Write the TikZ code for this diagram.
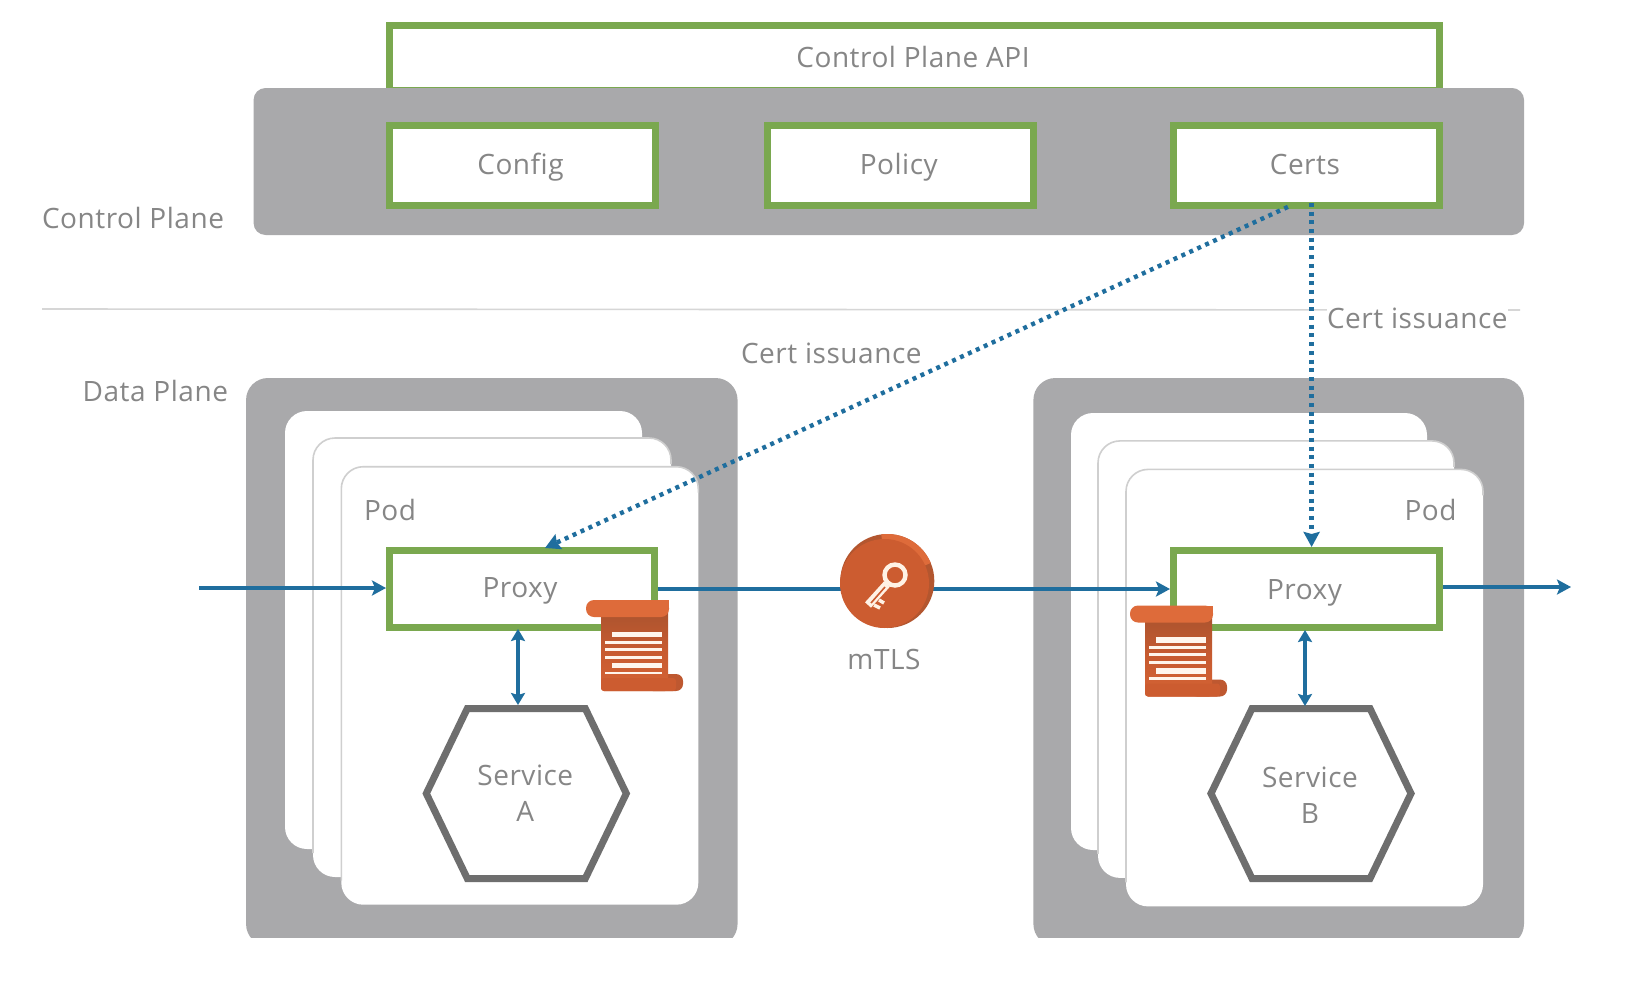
\documentclass[tikz,border=0pt]{standalone}
\usepackage{fontspec}
\setmainfont{Open Sans}[Ligatures=NoCommon,LetterSpace=1.9]
\usetikzlibrary{arrows.meta,calc}
\definecolor{gr}{HTML}{7AA84F}
\definecolor{graybox}{HTML}{A9A9AB}
\definecolor{txt}{HTML}{868686}
\definecolor{blu}{HTML}{1F6E9E}
\definecolor{hexc}{HTML}{6E6E6E}
\definecolor{org}{HTML}{CC5C30}
\definecolor{orgl}{HTML}{DE6B3A}
\definecolor{orgd}{HTML}{A9532F}
\definecolor{podline}{HTML}{CFCFCF}
\tikzset{
  lab/.style={font=\fontsize{28}{36}\selectfont,text=txt,inner sep=0pt,outer sep=0pt,text height=20pt,text depth=0pt},
  greenbox/.style={lab,text height=18pt,draw=gr,line width=7pt,fill=white,minimum width=266pt,minimum height=80pt,outer sep=3.5pt},
  graypanel/.style={fill=graybox,inner sep=0pt,outer sep=0pt,rounded corners=12pt},
  datapanel/.style={graypanel,rounded corners=22pt},
  podbox/.style={fill=white,inner sep=0pt,outer sep=0pt,rounded corners=22pt},
  podedge/.style={draw=podline,line width=1.6pt,rounded corners=22pt},
  svc/.style={font=\fontsize{28}{36}\selectfont,text=txt,inner sep=0pt,outer sep=0pt,align=center,minimum width=208pt,minimum height=177pt},
  hexline/.style={draw=hexc,line width=7pt,fill=white,line join=miter},
  flow/.style={draw=blu,line width=4.2pt,-{Stealth[length=14pt,width=15pt,inset=3pt]}},
  flowboth/.style={draw=blu,line width=4.2pt,{Stealth[length=12pt,width=14pt,inset=2pt]}-{Stealth[length=12pt,width=14pt,inset=2pt]}},
  cert/.style={draw=blu,line width=4.4pt,dash pattern=on 4pt off 4.7pt,-{Stealth[length=15pt,width=16pt,inset=2pt]}},
  keydisc/.style={circle,fill=org,minimum size=89pt,inner sep=0pt,outer sep=0pt},
  scrollline/.style={draw=white!92!orange},
}
\newcommand{\scrollicon}[2]{%
  \begin{scope}[shift={(#1,#2)}]
    % body
    \fill[orgd!40!org,rounded corners=7pt] (60,74) rectangle (97,91);
    \shade[top color=orgd,bottom color=orgl!50!org,middle color=org!85!orgd,rounded corners=3pt]
      (15,8) rectangle (82,91);
    \fill[org,rounded corners=3pt] (15,78) rectangle (90,91);
    % top roll
    \fill[orgl,rounded corners=8pt] (0,0) rectangle (83,17);
    \fill[orgl] (15,0) rectangle (83,10);
    % text lines
    \fill[white!93!orange] (26,31.5) rectangle (76,37);
    \draw[scrollline,line width=3pt] (19,42) -- (76,42);
    \draw[scrollline,line width=3pt] (19,49) -- (76,49);
    \draw[scrollline,line width=3pt] (19,57) -- (76,57);
    \fill[white!93!orange] (26,62.5) rectangle (76,68);
    \draw[scrollline,line width=2.2pt] (19,73) -- (76,73);
  \end{scope}}
\begin{document}
\begin{tikzpicture}[x=1pt,y=-1pt]
\useasboundingbox (0,0) rectangle (1640,988);
\fill[white] (0,0) rectangle (1640,988);

% divider
\coordinate (divL) at (42,309);
\coordinate (divR) at (1520,310);
\draw[draw=black!16,line width=1.6pt] (divL) -- (divR);

% control plane
\node[greenbox,minimum width=1050pt,minimum height=65pt] (api) at (914.5,58) {\hspace*{-3pt}Control Plane API};
\node[graypanel,minimum width=1270.5pt,minimum height=147pt] (cp) at (888.8,161.5) {};
\node[greenbox] (config) at (522.5,165.4) {\hspace*{-4pt}Config};
\node[greenbox] (policy) at (900.8,165.4) {\hspace*{-4pt}Policy};
\node[greenbox] (certs) at (1306.9,165.4) {\hspace*{-4pt}Certs};

\node[lab,anchor=west] (cplabel) at (42,218) {Control Plane};
\node[lab,anchor=east] (dplabel) at (228,391) {Data Plane};

% data plane panels
\begin{scope}
  \clip (0,0) rectangle (1640,937);
  \node[datapanel,minimum width=491.5pt,minimum height=568pt] (panelA) at (491.8,662) {};
  \node[datapanel,minimum width=490.6pt,minimum height=568pt] (panelB) at (1278.7,662) {};
\end{scope}

% pods A
\node[podbox,minimum width=357pt,minimum height=438pt] (podA1) at (463.5,630) {};
\node[podbox,minimum width=358pt,minimum height=439pt] (podA2) at (492,657.5) {};
\draw[podedge] ($(podA2.south west)+(0,-24)$) -- (podA2.north west) -- (podA2.north east) -- ($(podA2.north east)+(0,26)$);
\node[podbox,minimum width=357pt,minimum height=438pt] (podA3) at (519.8,685.7) {};
\draw[podedge] ($(podA3.south west)+(0,-24)$) -- (podA3.north west) -- (podA3.north east) -- ($(podA3.north east)+(0,26)$);
% pods B
\node[podbox,minimum width=356pt,minimum height=437pt] (podB1) at (1249,631.5) {};
\node[podbox,minimum width=356pt,minimum height=437pt] (podB2) at (1276,659.4) {};
\draw[podedge] ($(podB2.south west)+(0,-24)$) -- (podB2.north west) -- (podB2.north east) -- ($(podB2.north east)+(0,26)$);
\node[podbox,minimum width=357pt,minimum height=437pt] (podB3) at (1304.5,687.9) {};
\draw[podedge] ($(podB3.south west)+(0,-24)$) -- (podB3.north west) -- (podB3.north east) -- ($(podB3.north east)+(0,26)$);

\node[lab,anchor=west] (podAt) at (364,510.7) {Pod};
\node[lab,anchor=east] (podBt) at (1456.5,510.7) {Pod};

% proxies
\node[greenbox,minimum width=265pt,minimum height=77pt] (proxyA) at (522,589) {\hspace*{-4pt}\raisebox{1pt}{Proxy}};
\node[greenbox,minimum width=266pt,minimum height=77pt] (proxyB) at (1306.5,589) {\hspace*{-4pt}\raisebox{-1pt}{Proxy}};

% services
\node[svc] (svcA) at (526.3,793.5) {};
\node[svc] (svcB) at (1311,793.5) {};
\draw[hexline] ($(svcA.west)+(4,0)$) -- ($(svcA.north west)+(45,3.5)$) -- ($(svcA.north east)+(-45,3.5)$) -- ($(svcA.east)+(-4,0)$) -- ($(svcA.south east)+(-45,-3.5)$) -- ($(svcA.south west)+(45,-3.5)$) -- cycle;
\draw[hexline] ($(svcB.west)+(4,0)$) -- ($(svcB.north west)+(45,3.5)$) -- ($(svcB.north east)+(-45,3.5)$) -- ($(svcB.east)+(-4,0)$) -- ($(svcB.south east)+(-45,-3.5)$) -- ($(svcB.south west)+(45,-3.5)$) -- cycle;
\node[svc] (svcAt) at ($(svcA)+(-1,-0.5)$) {Service\\A};
\node[svc] (svcBt) at ($(svcB)+(-1,1.5)$) {Service\\B};

% flows
\coordinate (inA) at (199,588);
\coordinate (outB) at (1571,587);
\draw[flow] (inA) -- (inA -| proxyA.west);
\coordinate (midkey) at (887,590);
\draw[draw=blu,line width=4.2pt] (proxyA.east) -- (proxyA.east -| midkey);
\draw[flow] (proxyA.east -| midkey) -- (proxyB.west);
\draw[flow] (outB -| proxyB.east) -- (outB);
\draw[flowboth] ($(proxyA.south)+(-4,-2)$) -- ($(svcA.north)+(-8.3,0)$);
\draw[flowboth] ($(proxyB.south)+(-1.5,-1)$) -- ($(svcB.north)+(-6,1)$);

% cert issuance
\coordinate (certD) at ($(certs.south)+(-19,-2)$);
\coordinate (certV) at ($(certs.south)+(4.7,-6)$);
\draw[cert] (certD) -- ($(proxyA.north)+(23,1)$);
\draw[cert] (certV) -- (certV |- proxyB.north);

\node[lab,anchor=west,fill=white] (ciR) at (1327,318) {Cert issuance};
\node[lab,anchor=west] (ciL) at (741,353) {Cert issuance};

% scrolls
\scrollicon{586}{600}
\scrollicon{1130}{605.5}

% mTLS key
\node[keydisc,fill=orgd!70!org,minimum size=94pt] (key) at (887.3,581) {};
\begin{scope}
  \clip (key) circle[radius=47pt];
  \fill[orgl] (key.center) -- (880,525) -- (925,525) -- (938,560) -- cycle;
\end{scope}
\node[keydisc] (keyf) at (884.5,583.5) {};
\begin{scope}[draw=white!90!orange]
  \draw[line width=4.4pt] (895,575) circle[radius=10.5pt];
  \draw[line width=8pt] (887,584) -- (868,605);
  \draw[line width=1.6pt,draw=org] (885,587) -- (871,603);
  \draw[line width=3.5pt] (874,605) -- (880,608);
  \draw[line width=3.5pt] (879,600) -- (884,603);
\end{scope}
\node[lab,anchor=center] (mtls) at (884,659.7) {mTLS};
\end{tikzpicture}
\end{document}
